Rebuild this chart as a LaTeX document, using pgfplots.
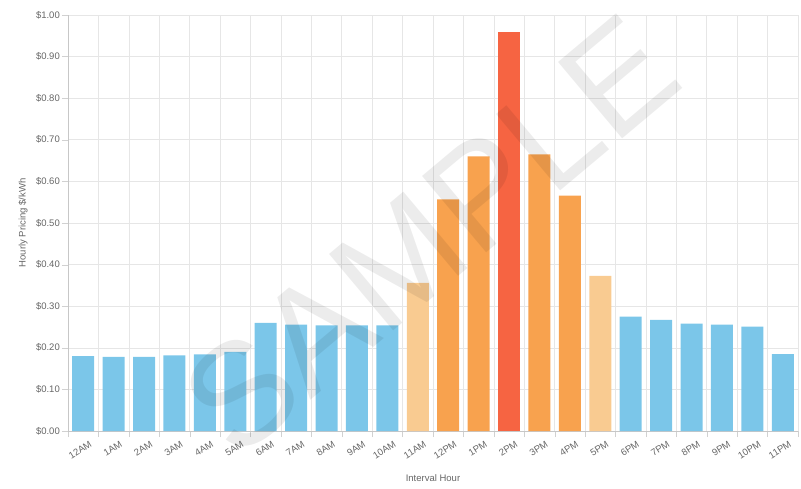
\documentclass[border=0pt]{standalone}
\usepackage{fontspec}
\setmainfont{Liberation Sans}
\usepackage{pgfplots}
\pgfplotsset{compat=1.18}
\usetikzlibrary{calc}

\definecolor{offpeak}{HTML}{7BC6E9}
\definecolor{shoulder}{HTML}{F9CB91}
\definecolor{peak}{HTML}{F8A24E}
\definecolor{critical}{HTML}{F66442}
\definecolor{gridc}{HTML}{E6E6E6}
\definecolor{txt}{HTML}{666666}

\begin{document}
\begin{tikzpicture}
  \begin{axis}[
    scale only axis,
    width=730pt, height=416pt,
    xmin=-0.5, xmax=23.5,
    ymin=0, ymax=1,
    xtick={0,...,23},
    xticklabels={12AM,1AM,2AM,3AM,4AM,5AM,6AM,7AM,8AM,9AM,10AM,11AM,
                 12PM,1PM,2PM,3PM,4PM,5PM,6PM,7PM,8PM,9PM,10PM,11PM},
    minor xtick={-0.5,0.5,...,23.5},
    ytick={0,0.1,...,1.0},
    yticklabels={\$0.00,\$0.10,\$0.20,\$0.30,\$0.40,\$0.50,\$0.60,\$0.70,\$0.80,\$0.90,\$1.00},
    xmajorgrids=false, xminorgrids=true, ymajorgrids=true,
    grid style={gridc, line width=0.6pt},
    minor grid style={gridc, line width=0.6pt},
    axis lines=left,
    axis line style={-, draw=gridc!70!gray, line width=0.8pt},
    tick align=outside,
    major tick length=6pt, minor tick length=6pt,
    xtick style={draw=none},
    minor x tick style={draw=gridc!80!gray},
    ytick style={draw=gridc!80!gray},
    ticklabel style={font=\fontsize{9.5}{11}\selectfont, text=txt},
    xticklabel style={rotate=32, anchor=north east, inner sep=1pt, yshift=-5pt, xshift=4pt},
    yticklabel style={inner sep=2pt},
    xlabel={Interval Hour},
    ylabel={Hourly Pricing \$/kWh},
    label style={font=\fontsize{9.5}{11}\selectfont, text=txt},
    xlabel style={yshift=-10pt},
    ylabel style={yshift=3pt},
    ybar, bar width=22pt,
    clip=false,
  ]
  % off-peak hours
  \addplot[fill=offpeak, draw=none, bar shift=0pt] coordinates {
    (0,0.180) (1,0.178) (2,0.178) (3,0.182) (4,0.184) (5,0.190)
    (6,0.260) (7,0.256) (8,0.254) (9,0.254) (10,0.254)
    (18,0.275) (19,0.267) (20,0.258) (21,0.256) (22,0.251) (23,0.185)};
  % shoulder
  \addplot[fill=shoulder, draw=none, bar shift=0pt] coordinates {
    (11,0.356) (17,0.373)};
  % peak
  \addplot[fill=peak, draw=none, bar shift=0pt] coordinates {
    (12,0.557) (13,0.660) (15,0.665) (16,0.566)};
  % critical peak
  \addplot[fill=critical, draw=none, bar shift=0pt] coordinates {
    (14,0.960)};
  % watermark
  \node[rotate=40, text=black, opacity=0.075, font=\fontsize{145}{145}\selectfont]
    at (axis cs:11.4,0.47) {SAMPLE};
  \end{axis}
  \pgfresetboundingbox
  \useasboundingbox ($(current axis.south west)+(-68pt,-57pt)$)
    rectangle ($(current axis.north east)+(3pt,15pt)$);
\end{tikzpicture}
\end{document}
